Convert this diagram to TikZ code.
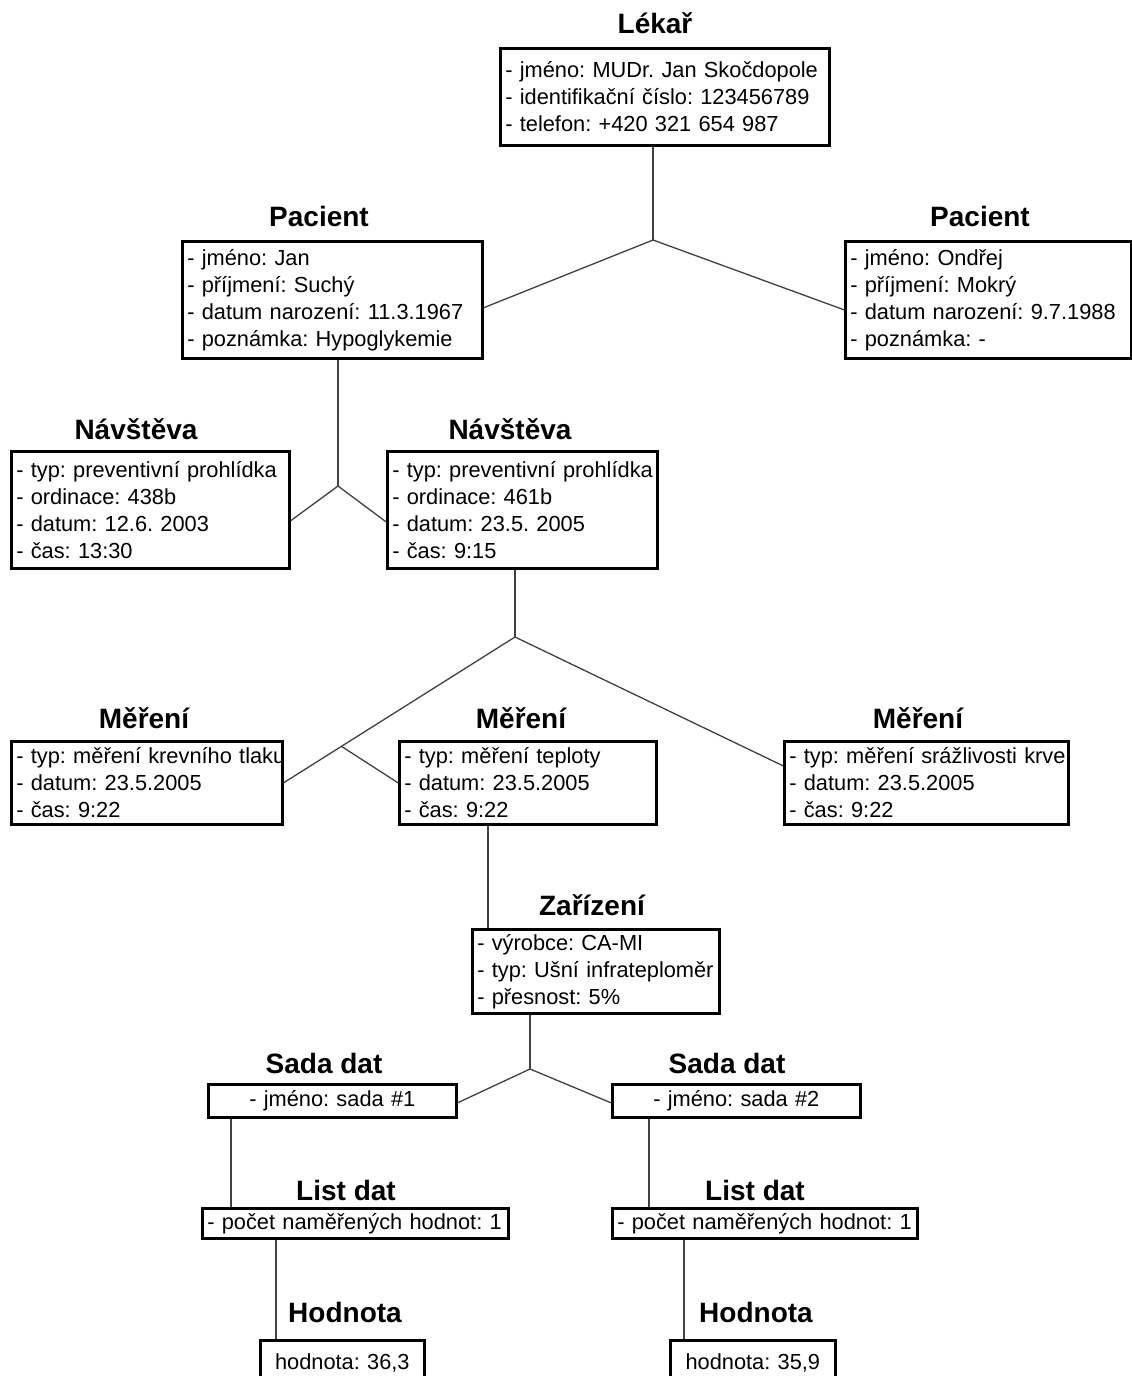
\documentclass[tikz,border=0pt]{standalone}
\usepackage{fontspec}
\setmainfont{Liberation Sans}
\usepackage{tikz}
\usetikzlibrary{positioning, calc}
\frenchspacing

\begin{document}
\begin{tikzpicture}[
    x=0.5pt, y=-0.5pt,
    box/.style={draw, line width=1.3pt, anchor=north west, align=left, inner xsep=2.5pt, inner ysep=0pt,
        font=\fontsize{10.9}{13.5}\selectfont\frenchspacing,
        execute at begin node={\rightskip=0pt plus 1fil minus 20pt}},
    cbox/.style={box, align=center, execute at begin node={\leftskip=0pt plus 1fil\rightskip=0pt plus 1fil}},
    title/.style={anchor=base, font=\fontsize{14}{16}\selectfont\bfseries},
    link/.style={line width=0.65pt, color=black!75},
]
\useasboundingbox (0,0) rectangle (1131,1376);

% ===== Lekar =====
\node[title] (tLekar) at (655,33) {Lékař};
\node[box, text width=159.5pt, minimum height=48.5pt] (lekar) at (499,47) {
    - jméno: MUDr. Jan Skočdopole\\
    - identifikační číslo: 123456789\\
    - telefon: +420 321 654 987
};

% ===== Pacienti =====
\node[title] (tPacA) at (319,226) {Pacient};
\node[box, text width=145pt, minimum height=58.5pt] (pacA) at (181,240) {
    - jméno: Jan\\
    - příjmení: Suchý\\
    - datum narození: 11.3.1967\\
    - poznámka: Hypoglykemie
};

\node[title] (tPacB) at (980,226) {Pacient};
\node[box, text width=138pt, minimum height=58.5pt] (pacB) at (844,240) {
    - jméno: Ondřej\\
    - příjmení: Mokrý\\
    - datum narození: 9.7.1988\\
    - poznámka: -
};

% ===== Navstevy =====
\node[title] (tNavA) at (136,439) {Návštěva};
\node[box, text width=134pt, minimum height=58.5pt] (navA) at (10,450) {
    - typ: preventivní prohlídka\\
    - ordinace: 438b\\
    - datum: 12.6. 2003\\
    - čas: 13:30
};

\node[title] (tNavB) at (510,439) {Návštěva};
\node[box, text width=130pt, minimum height=58.5pt] (navB) at (386,450) {
    - typ: preventivní prohlídka\\
    - ordinace: 461b\\
    - datum: 23.5. 2005\\
    - čas: 9:15
};

% ===== Mereni =====
\node[title] (tMerA) at (144,728) {Měření};
\node[box, text width=130.5pt, minimum height=41.5pt] (merA) at (10,740) {
    - typ: měření krevního tlaku\\
    - datum: 23.5.2005\\
    - čas: 9:22
};

\node[title] (tMerB) at (521,728) {Měření};
\node[box, text width=123.5pt, minimum height=41.5pt] (merB) at (398,740) {
    - typ: měření teploty\\
    - datum: 23.5.2005\\
    - čas: 9:22
};

\node[title] (tMerC) at (918,728) {Měření};
\node[box, text width=137pt, minimum height=41.5pt] (merC) at (783,740) {
    - typ: měření srážlivosti krve\\
    - datum: 23.5.2005\\
    - čas: 9:22
};

% ===== Zarizeni =====
\node[title] (tZar) at (592,915) {Zařízení};
\node[box, text width=118.5pt, minimum height=42pt] (zar) at (471,928) {
    - výrobce: CA-MI\\
    - typ: Ušní infrateploměr\\
    - přesnost: 5\%
};

% ===== Sady dat =====
\node[title] (tSadaA) at (324,1073) {Sada dat};
\node[cbox, text width=119pt, minimum height=16.5pt] (sadaA) at (207,1083) {- jméno: sada \#1};

\node[title] (tSadaB) at (727,1073) {Sada dat};
\node[cbox, text width=119pt, minimum height=16.5pt] (sadaB) at (611,1083) {- jméno: sada \#2};

% ===== Listy dat =====
\node[title] (tListA) at (346,1200) {List dat};
\node[box, text width=148pt, minimum height=15pt] (listA) at (201,1207) {- počet naměřených hodnot: 1};

\node[title] (tListB) at (755,1200) {List dat};
\node[box, text width=147.5pt, minimum height=15pt] (listB) at (611,1207) {- počet naměřených hodnot: 1};

% ===== Hodnoty =====
\node[title] (tHodA) at (345,1322) {Hodnota};
\node[cbox, text width=77pt, minimum height=23pt] (hodA) at (259,1339) {hodnota: 36,3};

\node[title] (tHodB) at (756,1322) {Hodnota};
\node[cbox, text width=77.5pt, minimum height=23pt] (hodB) at (669,1339) {hodnota: 35,9};

% ===== Connectors =====
\coordinate (jLek) at (653,240);
\draw[link] (jLek |- lekar.south) -- (jLek);
\draw[link] (jLek) -- ($(pacA.east)+(0,8)$);
\draw[link] (jLek) -- ($(pacB.west)+(0,10)$);

\coordinate (jPac) at (338,486);
\draw[link] (jPac |- pacA.south) -- (jPac);
\draw[link] (jPac) -- ($(navA.east)+(0,11)$);
\draw[link] (jPac) -- ($(navB.west)+(0,12)$);

\coordinate (jNav) at (515,637);
\draw[link] (jNav |- navB.south) -- (jNav);
\draw[link] (jNav) -- (merA.east);
\coordinate (bMer) at ($(jNav)!0.75!(merA.east)$);
\draw[link] (bMer) -- (merB.west);
\draw[link] (jNav) -- ($(merC.west)+(0,-17)$);

% vertical links
\coordinate (kZar) at (488,0);
\draw[link] (kZar |- merB.south) -- (kZar |- zar.north);

\coordinate (jZar) at (530,1069);
\draw[link] (jZar |- zar.south) -- (jZar);
\draw[link] (jZar) -- ($(sadaA.east)+(0,2)$);
\draw[link] (jZar) -- ($(sadaB.west)+(0,2)$);

\coordinate (kSadaA) at (231,0);
\coordinate (kSadaB) at (649,0);
\draw[link] (kSadaA |- sadaA.south) -- (kSadaA |- listA.north);
\draw[link] (kSadaB |- sadaB.south) -- (kSadaB |- listB.north);

\coordinate (kListA) at (276,0);
\coordinate (kListB) at (684,0);
\draw[link] (kListA |- listA.south) -- (kListA |- hodA.north);
\draw[link] (kListB |- listB.south) -- (kListB |- hodB.north);

\end{tikzpicture}
\end{document}
